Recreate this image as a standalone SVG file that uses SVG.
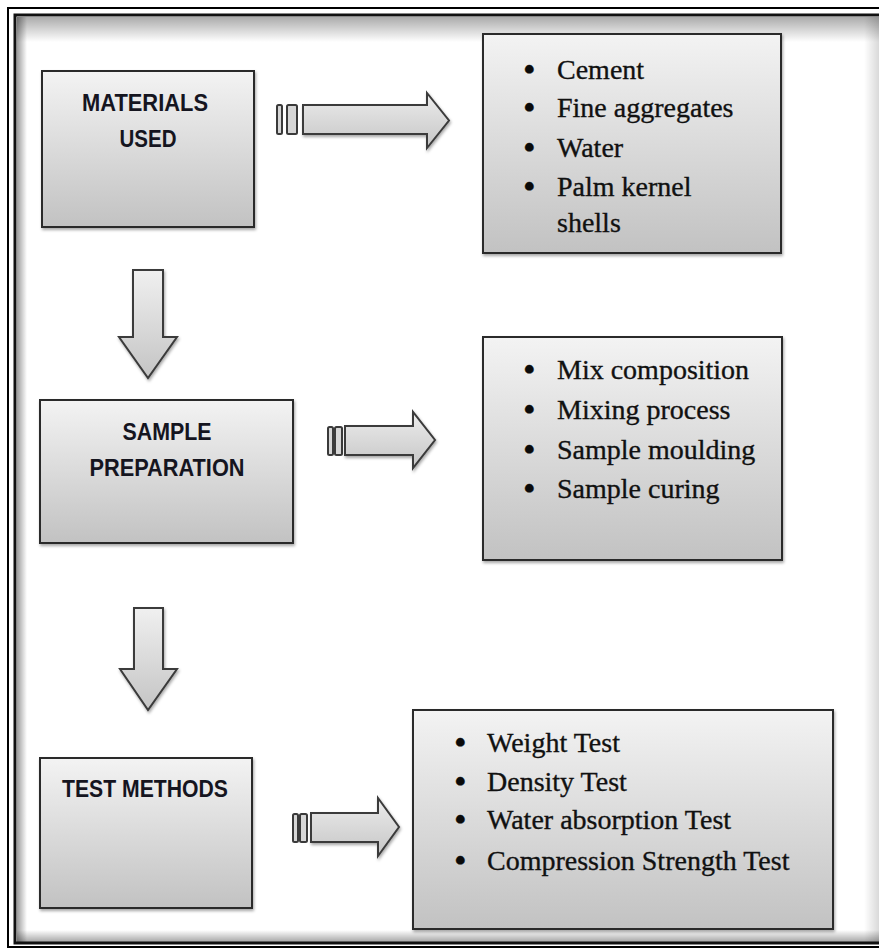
<svg xmlns="http://www.w3.org/2000/svg" width="879" height="949" viewBox="0 0 879 949">
  <defs>
    <linearGradient id="boxFill" x1="0" y1="0" x2="0" y2="1">
      <stop offset="0" stop-color="#f3f3f3"/>
      <stop offset="1" stop-color="#c2c2c2"/>
    </linearGradient>
    <linearGradient id="arrowFillH" x1="0" y1="0" x2="0" y2="1">
      <stop offset="0" stop-color="#ececec"/>
      <stop offset="1" stop-color="#c6c6c6"/>
    </linearGradient>
    <linearGradient id="arrowFillV" x1="0" y1="0" x2="0" y2="1">
      <stop offset="0" stop-color="#f0f0f0"/>
      <stop offset="1" stop-color="#c4c4c4"/>
    </linearGradient>
    <linearGradient id="shL" x1="0" y1="0" x2="1" y2="0">
      <stop offset="0" stop-color="#000" stop-opacity="0.55"/>
      <stop offset="1" stop-color="#000" stop-opacity="0"/>
    </linearGradient>
    <linearGradient id="shR" x1="1" y1="0" x2="0" y2="0">
      <stop offset="0" stop-color="#000" stop-opacity="0.25"/>
      <stop offset="1" stop-color="#000" stop-opacity="0"/>
    </linearGradient>
    <linearGradient id="shT" x1="0" y1="0" x2="0" y2="1">
      <stop offset="0" stop-color="#000" stop-opacity="0.55"/>
      <stop offset="1" stop-color="#000" stop-opacity="0"/>
    </linearGradient>
    <linearGradient id="shB" x1="0" y1="1" x2="0" y2="0">
      <stop offset="0" stop-color="#000" stop-opacity="0.5"/>
      <stop offset="1" stop-color="#000" stop-opacity="0"/>
    </linearGradient>
    <filter id="shadow" x="-10%" y="-10%" width="125%" height="125%">
      <feDropShadow dx="1" dy="2" stdDeviation="1.5" flood-color="#000" flood-opacity="0.35"/>
    </filter>
  </defs>
  <style>
    .box { fill: url(#boxFill); stroke: #2b2b2b; stroke-width: 2; filter: url(#shadow); }
    .arrow { fill: url(#arrowFillH); stroke: #3a3a3a; stroke-width: 2; stroke-linejoin: miter; filter: url(#shadow); }
    .darrow { fill: url(#arrowFillV); stroke: #3a3a3a; stroke-width: 2; filter: url(#shadow); }
    .bar { fill: #d6d6d6; stroke: #3a3a3a; stroke-width: 2; }
    .head { font-family: "Liberation Sans", Arial, sans-serif; font-weight: bold; font-size: 23px; fill: #15151f; text-anchor: middle; }
    .item { font-family: "Liberation Serif", "Times New Roman", serif; font-size: 28px; fill: #111; stroke: #111; stroke-width: 0.35px; }
    .bul { font-size: 36px; fill: #0a0a0a; }
  </style>

  <rect width="879" height="949" fill="#ffffff"/>

  <!-- frame -->
  <g id="frame">
    <rect x="17" y="17" width="870" height="25" fill="url(#shT)" opacity="0.6"/>
    <rect x="17" y="17" width="10" height="925" fill="url(#shL)" opacity="0.7"/>
    <rect x="17" y="930" width="870" height="12" fill="url(#shB)" opacity="0.7"/>
    <rect x="864" y="17" width="15" height="925" fill="url(#shR)" opacity="0.6"/>
    <rect x="8" y="8" width="900" height="939" fill="none" stroke="#000" stroke-width="2"/>
    <rect x="15" y="15" width="900" height="928" fill="none" stroke="#111" stroke-width="3"/>
  </g>

  <!-- connectors -->
  <g id="connectors">
    <g id="arrow-materials">
      <rect class="bar" x="277" y="105" width="5" height="29" rx="1.5"/>
      <rect class="bar" x="287" y="105" width="10" height="29" rx="1.5"/>
      <path class="arrow" d="M303,105 H427 V93 L449,120.5 L427,148 V134 H303 Z"/>
    </g>
    <g id="arrow-sample">
      <rect class="bar" x="328" y="427" width="5" height="28" rx="1.5"/>
      <rect class="bar" x="335" y="427" width="7" height="28" rx="1.5"/>
      <path class="arrow" d="M345,426 H413 V412 L435,440 L413,468 V455 H345 Z"/>
    </g>
    <g id="arrow-test">
      <rect class="bar" x="293" y="814" width="5" height="28" rx="1.5"/>
      <rect class="bar" x="300" y="814" width="7" height="28" rx="1.5"/>
      <path class="arrow" d="M311,813 H378 V798 L399,827 L378,856 V842 H311 Z"/>
    </g>
    <path id="down-1" class="darrow" d="M133,270 H163 V337 H177 L148,378 L119,337 H133 Z"/>
    <path id="down-2" class="darrow" d="M134,608 H163 V669 H177 L148,710 L120,669 H134 Z"/>
  </g>

  <!-- nodes -->
  <g id="materials-used">
    <rect class="box" x="42" y="71" width="212" height="156"/>
    <text class="head" x="145" y="111" textLength="126" lengthAdjust="spacingAndGlyphs">MATERIALS</text>
    <text class="head" x="148" y="147" textLength="57" lengthAdjust="spacingAndGlyphs">USED</text>
  </g>

  <g id="materials-list">
    <rect class="box" x="483" y="34" width="298" height="219"/>
    <text class="item" y="79"><tspan class="bul" x="523" dy="3">•</tspan><tspan x="557" dy="-3">Cement</tspan></text>
    <text class="item" y="117"><tspan class="bul" x="523" dy="3">•</tspan><tspan x="557" dy="-3">Fine aggregates</tspan></text>
    <text class="item" y="157"><tspan class="bul" x="523" dy="3">•</tspan><tspan x="557" dy="-3">Water</tspan></text>
    <text class="item" y="196"><tspan class="bul" x="523" dy="3">•</tspan><tspan x="557" dy="-3">Palm kernel</tspan></text>
    <text class="item" x="557" y="232">shells</text>
  </g>

  <g id="sample-preparation">
    <rect class="box" x="40" y="400" width="253" height="143"/>
    <text class="head" x="167" y="440" textLength="89" lengthAdjust="spacingAndGlyphs">SAMPLE</text>
    <text class="head" x="167" y="476" textLength="155" lengthAdjust="spacingAndGlyphs">PREPARATION</text>
  </g>

  <g id="sample-list">
    <rect class="box" x="483" y="337" width="299" height="223"/>
    <text class="item" y="379"><tspan class="bul" x="523" dy="3">•</tspan><tspan x="557" dy="-3">Mix composition</tspan></text>
    <text class="item" y="419"><tspan class="bul" x="523" dy="3">•</tspan><tspan x="557" dy="-3">Mixing process</tspan></text>
    <text class="item" y="459"><tspan class="bul" x="523" dy="3">•</tspan><tspan x="557" dy="-3">Sample moulding</tspan></text>
    <text class="item" y="498"><tspan class="bul" x="523" dy="3">•</tspan><tspan x="557" dy="-3">Sample curing</tspan></text>
  </g>

  <g id="test-methods">
    <rect class="box" x="40" y="758" width="212" height="150"/>
    <text class="head" x="145" y="797" textLength="166" lengthAdjust="spacingAndGlyphs">TEST METHODS</text>
  </g>

  <g id="test-list">
    <rect class="box" x="413" y="710" width="420" height="219"/>
    <text class="item" y="752"><tspan class="bul" x="454" dy="3">•</tspan><tspan x="487" dy="-3">Weight Test</tspan></text>
    <text class="item" y="791"><tspan class="bul" x="454" dy="3">•</tspan><tspan x="487" dy="-3">Density Test</tspan></text>
    <text class="item" y="829"><tspan class="bul" x="454" dy="3">•</tspan><tspan x="487" dy="-3">Water absorption Test</tspan></text>
    <text class="item" y="870"><tspan class="bul" x="454" dy="3">•</tspan><tspan x="487" dy="-3">Compression Strength Test</tspan></text>
  </g>
</svg>
